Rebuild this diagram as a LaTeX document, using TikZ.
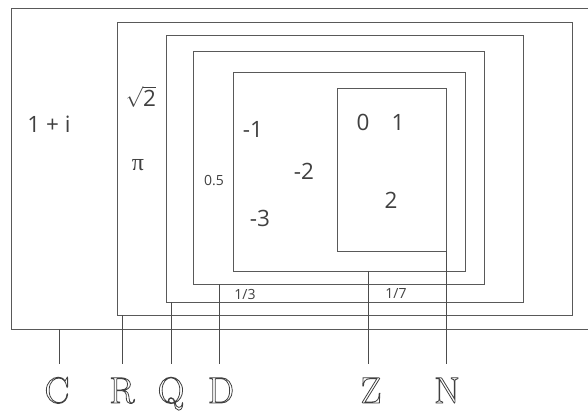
\documentclass[tikz,border=0pt]{standalone}
\usepackage{fontspec}
\newfontfamily\osans{Open Sans}
\newfontfamily\serifgr{Liberation Serif}
\newfontfamily\lmr{Latin Modern Roman}
\begin{document}
\begin{tikzpicture}[x=1pt,y=-1pt,
  box/.style={draw=black!65, line width=0.9pt},
  lead/.style={draw=black!70, line width=1pt},
  num/.style={text=black!75, font=\osans\fontsize{22.5}{22.5}\selectfont, inner sep=0pt},
  small/.style={text=black!75, font=\osans\fontsize{14}{14}\selectfont, inner sep=0pt},
  setname/.style={text=black!75, font=\lmr\fontsize{37}{37}\selectfont, inner sep=0pt, anchor=base}]
\useasboundingbox (0,0) rectangle (588,411);
% rectangles (corner coordinates)
\coordinate (Ctl) at (11,8);   \coordinate (Cbr) at (600,329);
\coordinate (Rtl) at (117,22); \coordinate (Rbr) at (572,315);
\coordinate (Qtl) at (166,35); \coordinate (Qbr) at (523,302);
\coordinate (Dtl) at (193,51); \coordinate (Dbr) at (484,284);
\coordinate (Ztl) at (233,72); \coordinate (Zbr) at (465,271);
\coordinate (Ntl) at (337,88); \coordinate (Nbr) at (446,251);
\begin{scope}
\clip (0,0) rectangle (588,411);
\draw[box] (Ctl) rectangle (Cbr);
\end{scope}
\draw[box] (Rtl) rectangle (Rbr);
\draw[box] (Qtl) rectangle (Qbr);
\draw[box] (Dtl) rectangle (Dbr);
\draw[box] (Ztl) rectangle (Zbr);
\draw[box] (Ntl) rectangle (Nbr);
% leader start points
\coordinate (cs) at (59,329);  \coordinate (ce) at (59,364);
\coordinate (rs) at (122,315); \coordinate (re) at (122,364);
\coordinate (qs) at (171,302); \coordinate (qe) at (171,364);
\coordinate (ds) at (219,284); \coordinate (de) at (219,364);
\coordinate (zs) at (368,271); \coordinate (ze) at (368,364);
\coordinate (ns) at (446,251); \coordinate (ne) at (446,364);
\draw[lead] (cs) -- (ce);
\draw[lead] (rs) -- (re);
\draw[lead] (qs) -- (qe);
\draw[lead] (ds) -- (de);
\draw[lead] (zs) -- (ze);
\draw[lead] (ns) -- (ne);
% set names
\newcommand\outl[1]{\special{pdf:literal direct 1 Tr 0.8 w}#1\special{pdf:literal direct 0 Tr}}
\node[setname] (lC) at (57,403) {\outl{C}};
\node[setname] (lR) at (122,403) {\outl{R}};
\node[setname] (lQ) at (171,403) {\outl{Q}};
\node[setname] (lD) at (221,403) {\outl{D}};
\node[setname] (lZ) at (371,403) {\outl{Z}};
\node[setname] (lN) at (447,403) {\outl{N}};
% elements
\node[num] (t1) at (49,124) {1 + i};
\node[num] (t2) at (141,97) {$\sqrt{\mbox{\osans 2}}$};
\node[num, font=\serifgr\fontsize{24}{24}\selectfont] (t3) at (138,165) {π};
\node[small] (t4) at (214,181) {0.5};
\node[num] (t5) at (253,129) {-1};
\node[num] (t6) at (304,171) {-2};
\node[num] (t7) at (260,218) {-3};
\node[num] (t8) at (363,122) {0};
\node[num] (t9) at (398,122) {1};
\node[num] (t10) at (391,200) {2};
\node[small] (t11) at (245,294) {1/3};
\node[small] (t12) at (396,294) {1/7};
\end{tikzpicture}
\end{document}
